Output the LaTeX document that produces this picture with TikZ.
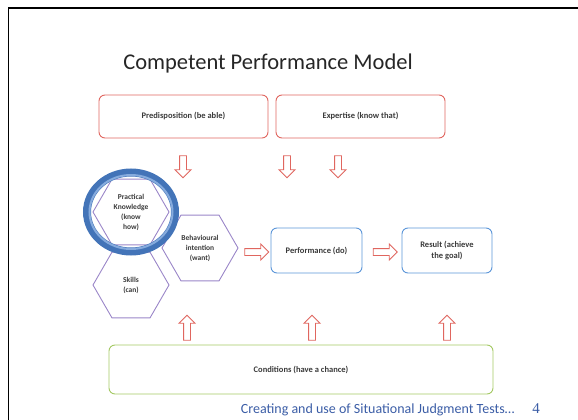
\documentclass[tikz,border=0pt]{standalone}
\usepackage{fontspec}
\setmainfont{Carlito}
\newfontfamily\pagenum{Liberation Serif}
\usetikzlibrary{positioning,shapes.geometric,shapes.arrows}
\definecolor{red}{HTML}{E0665F}
\definecolor{purple}{HTML}{9A86C8}
\definecolor{blue}{HTML}{5B95D8}
\definecolor{green}{HTML}{A3C862}
\definecolor{ring}{HTML}{4374B8}
\definecolor{ringlight}{HTML}{86ABDD}
\definecolor{ink}{HTML}{3A3A3A}
\definecolor{foot}{HTML}{3B5DA6}

\begin{document}
\begin{tikzpicture}[
  x=1pt, y=-1pt,
  font=\fontsize{8.5}{10.5}\selectfont\bfseries,
  box/.style={draw, rounded corners=6pt, line width=0.9pt, text=ink, align=center, inner sep=2pt},
  hexa/.style={draw=purple, regular polygon, regular polygon sides=6, minimum size=76pt, inner sep=0pt, line width=0.9pt, align=center, text=ink, font=\fontsize{7.5}{10}\selectfont\bfseries},
  blk/.style={single arrow, draw=red, fill=white, line width=0.9pt, minimum height=22pt, minimum width=0pt, single arrow head extend=4.5pt, single arrow head indent=0pt, inner sep=3pt}
]
\useasboundingbox (0,0) rectangle (578,420);
\draw[line width=1.5pt] (8.5,420) -- (8.5,8) -- (578,8);

\node[font=\fontsize{22.5}{26}\selectfont, text=black!85] (title) at (268,64) {Competent Performance Model};

% top boxes
\node[box, draw=red, minimum width=169pt, minimum height=43pt] (predisp) at (183.5,116.5) {Predisposition (be able)};
\node[box, draw=red, minimum width=169pt, minimum height=43pt] (expert) at (360.5,116.5) {Expertise (know that)};

\node[blk, shape border rotate=270] (down1) at (183,165) {};
\node[blk, shape border rotate=270] (down2) at (287,165) {};
\node[blk, shape border rotate=270] (down3) at (338,165) {};

% hexagons
\node[hexa] (practical) at (131,212) {Practical\\Knowledge\\(know\\how)};
\node[hexa] (skills) at (131,285) {Skills\\(can)};
\node[hexa] (intent) at (200,248) {Behavioural\\intention\\(want)};

\draw[ring, line width=8pt] (practical.center) ellipse [x radius=44, y radius=39.5];
\draw[ringlight, line width=2pt] (practical.center) ellipse [x radius=41.5, y radius=37];

% performance chain
\node[blk, minimum height=24pt] (right1) at (255,252) {};
\node[box, draw=blue, minimum width=91pt, minimum height=45pt] (perform) at (316.5,250.5) {Performance (do)};
\node[blk, minimum height=24pt] (right2) at (383.5,252) {};
\node[box, draw=blue, minimum width=90pt, minimum height=45pt] (result) at (447,250.5) {Result (achieve\\the goal)};

\node[blk, shape border rotate=90, minimum height=25pt] (up1) at (187,329.5) {};
\node[blk, shape border rotate=90, minimum height=25pt] (up2) at (312,329.5) {};
\node[blk, shape border rotate=90, minimum height=25pt] (up3) at (447,329.5) {};

\node[box, draw=green, minimum width=384pt, minimum height=49pt] (cond) at (301,369.5) {Conditions (have a chance)};

% footer
\node[text=foot, font=\fontsize{14}{16}\selectfont, anchor=east] (foot) at (518,410) {Creating and use of Situational Judgment Tests…};
\node[text=foot, font=\pagenum\fontsize{15}{17}\selectfont] (pnum) at (536,409) {4};
\end{tikzpicture}
\end{document}
